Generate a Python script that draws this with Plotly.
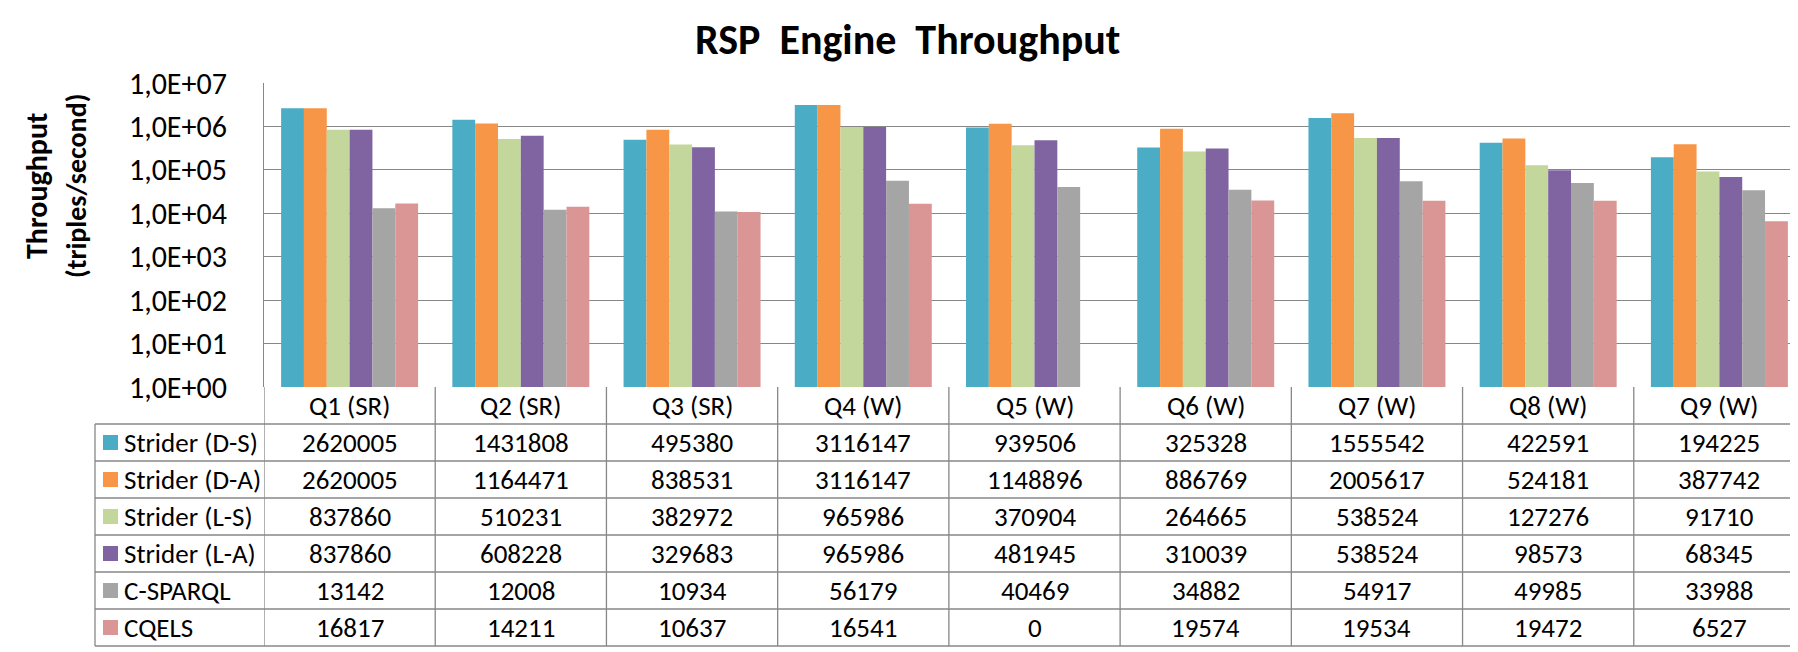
import plotly.graph_objects as go

# data
queries = ['Q1 (SR)', 'Q2 (SR)', 'Q3 (SR)', 'Q4 (W)', 'Q5 (W)',
           'Q6 (W)', 'Q7 (W)', 'Q8 (W)', 'Q9 (W)']

strider_ds = [2620005, 1431808, 495380, 3116147, 939506, 325328, 1555542, 422591, 194225]
strider_da = [2620005, 1164471, 838531, 3116147, 1148896, 886769, 2005617, 524181, 387742]
strider_ls = [837860, 510231, 382972, 965986, 370904, 264665, 538524, 127276, 91710]
strider_la = [837860, 608228, 329683, 965986, 481945, 310039, 538524, 98573, 68345]
csparql = [13142, 12008, 10934, 56179, 40469, 34882, 54917, 49985, 33988]
cqels = [16817, 14211, 10637, 16541, 0, 19574, 19534, 19472, 6527]

series_names = ['Strider (D-S)', 'Strider (D-A)', 'Strider (L-S)',
                'Strider (L-A)', 'C-SPARQL', 'CQELS']
series_values = [strider_ds, strider_da, strider_ls, strider_la, csparql, cqels]
colors = ['#4BACC6', '#F79646', '#C3D69B', '#8064A2', '#A5A5A5', '#D99694']

tick_vals = [1, 10, 100, 1000, 10000, 100000, 1000000, 10000000]
tick_text = ['1,0E+00', '1,0E+01', '1,0E+02', '1,0E+03',
             '1,0E+04', '1,0E+05', '1,0E+06', '1,0E+07']

FONT = 'Carlito, Calibri, Lato, sans-serif'
LINE = '#878787'

# page geometry (pixels)
W, H = 1798, 652
L, R = 256, 1797
TOP, BOT = 75, 379
ROW = 37
TABLE_LEFT = 87


def px_x(x):
    return (x - L) / (R - L)


def px_y(y):
    return (BOT - y) / (BOT - TOP)


fig = go.Figure()

for name, vals, c in zip(series_names, series_values, colors):
    fig.add_trace(go.Bar(x=queries, y=vals, name=name, marker_color=c,
                         marker_line_width=0))

shapes = []
annotations = []

# table: header row with query names
table_bottom = BOT + ROW * 7
for i, q in enumerate(queries):
    annotations.append(dict(x=q, xref='x', y=px_y(BOT + ROW / 2), yref='paper',
                            text=q, showarrow=False, yanchor='middle',
                            font=dict(family=FONT, size=27, color='black')))

# vertical lines of table (column boundaries)
for i in range(len(queries) + 1):
    shapes.append(dict(type='line', xref='x', yref='paper',
                       x0=i - 0.5, x1=i - 0.5, y0=0, y1=px_y(table_bottom),
                       line=dict(color=LINE, width=1.3)))

# left border of legend column
shapes.append(dict(type='line', xref='paper', yref='paper',
                   x0=px_x(TABLE_LEFT), x1=px_x(TABLE_LEFT),
                   y0=px_y(BOT + ROW), y1=px_y(table_bottom),
                   line=dict(color=LINE, width=1.3)))

# horizontal lines
for r in range(1, 8):
    yy = px_y(BOT + ROW * r)
    shapes.append(dict(type='line', xref='paper', yref='paper',
                       x0=px_x(TABLE_LEFT), x1=1, y0=yy, y1=yy,
                       line=dict(color=LINE, width=1.3)))

# rows: legend key, name and values
for r, (name, vals, c) in enumerate(zip(series_names, series_values, colors)):
    yc = BOT + ROW * (r + 1) + ROW / 2
    shapes.append(dict(type='rect', xref='paper', yref='paper',
                       x0=px_x(95), x1=px_x(110),
                       y0=px_y(yc - 7.5), y1=px_y(yc + 7.5),
                       fillcolor=c, line=dict(width=0)))
    annotations.append(dict(x=px_x(114), xref='paper', y=px_y(yc), yref='paper',
                            text=name, showarrow=False, xanchor='left',
                            yanchor='middle',
                            font=dict(family=FONT, size=27, color='black')))
    for q, v in zip(queries, vals):
        annotations.append(dict(x=q, xref='x', y=px_y(yc), yref='paper',
                                text=str(v), showarrow=False, yanchor='middle',
                                font=dict(family=FONT, size=27, color='black')))

# title
annotations.append(dict(x=px_x(899), xref='paper', y=px_y(32), yref='paper',
                        text='<b>RSP&nbsp; Engine&nbsp; Throughput</b>', showarrow=False,
                        xanchor='center', yanchor='middle',
                        font=dict(family=FONT, size=42, color='black')))

# y-axis title (two lines)
annotations.append(dict(x=px_x(28), xref='paper', y=px_y(178), yref='paper',
                        text='<b>Throughput</b>', showarrow=False, textangle=-90,
                        xanchor='center', yanchor='middle',
                        font=dict(family=FONT, size=30, color='black')))
annotations.append(dict(x=px_x(68), xref='paper', y=px_y(178), yref='paper',
                        text='<b>(triples/second)</b>', showarrow=False, textangle=-90,
                        xanchor='center', yanchor='middle',
                        font=dict(family=FONT, size=28, color='black')))

fig.update_layout(
    width=W, height=H,
    margin=dict(l=L, r=W - R, t=TOP, b=H - BOT, pad=0),
    paper_bgcolor='white', plot_bgcolor='white',
    barmode='group', bargap=0.2, bargroupgap=0,
    showlegend=False,
    shapes=shapes, annotations=annotations,
    xaxis=dict(type='category', range=[-0.5, len(queries) - 0.5],
               showticklabels=False, showgrid=False, zeroline=False,
               showline=False, fixedrange=True),
    yaxis=dict(type='log', range=[0, 7], tickvals=tick_vals, ticktext=tick_text,
               showgrid=True, gridcolor=LINE, gridwidth=1.3,
               showline=True, linecolor=LINE, linewidth=1.3,
               ticks='', ticklabelstandoff=30,
               tickfont=dict(family=FONT, size=30, color='black'),
               zeroline=False, fixedrange=True),
)

fig.write_html('out.html')
